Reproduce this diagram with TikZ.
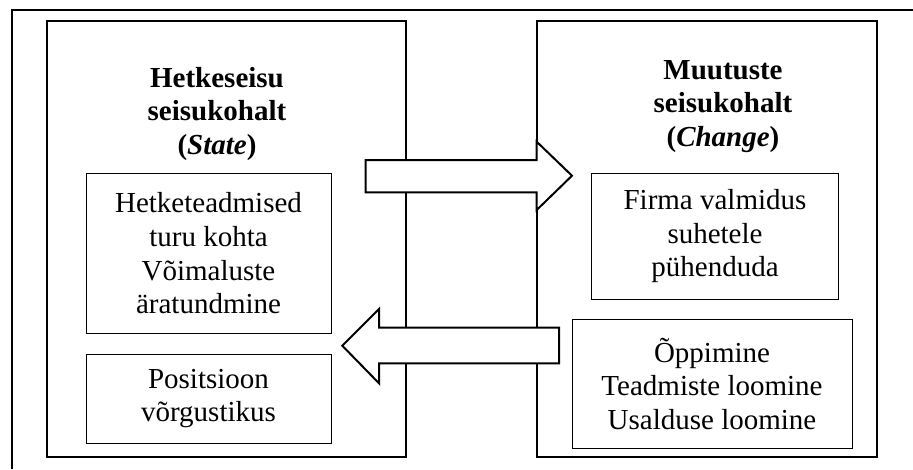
\documentclass[tikz,border=0pt]{standalone}
\usepackage{fontspec}
\setmainfont{Liberation Serif}
\begin{document}
\fontsize{29}{33.6}\selectfont
\begin{tikzpicture}[x=1pt,y=-1pt,
  panel/.style={draw,line width=2pt,minimum width=#1,minimum height=436.8pt,inner sep=0pt},
  item/.style 2 args={draw,line width=.9pt,align=center,inner sep=0pt,minimum width=#1,minimum height=#2},
  title/.style={align=center,anchor=north,inner sep=0pt,font=\bfseries},
  flow/.style={draw,line width=2pt,fill=white,line join=miter}]
\useasboundingbox (0,0) rectangle (913,469);
\draw[line width=2pt] (12,469) |- (913,10);
\node[panel=358.7pt] (state) at (226.35,238.9) {};
\node[panel=340pt] (change) at (706.7,238.9) {};
\node[title] (statetitle) at (217,67) {Hetkeseisu\\seisukohalt\\(\textit{State})};
\node[title] (changetitle) at (723,60) {Muutuste\\seisukohalt\\(\textit{Change})};
\draw[flow] (365.7,160) -- (536.7,160) -- (536.7,141.7) -- (572,175.7) -- (536.7,210) -- (536.7,192.3) -- (365.7,192.3) -- cycle;
\draw[flow] (559,327.7) -- (379,327.7) -- (379,309) -- (342.3,345.7) -- (379,383.3) -- (379,363.3) -- (559,363.3) -- cycle;
\node[item={245pt}{160pt}] (now) at (208.5,253.3) {Hetketeadmised\\turu kohta\\Võimaluste\\äratundmine};
\node[item={245pt}{89.3pt}] (net) at (208.5,398.7) {Positsioon\\võrgustikus};
\node[item={247.4pt}{126pt}] (ready) at (715,236.3) {Firma valmidus\\suhetele\\pühenduda};
\node[item={280pt}{129pt}] (learn) at (712,383.8) {Õppimine\\Teadmiste loomine\\Usalduse loomine};
\end{tikzpicture}
\end{document}
